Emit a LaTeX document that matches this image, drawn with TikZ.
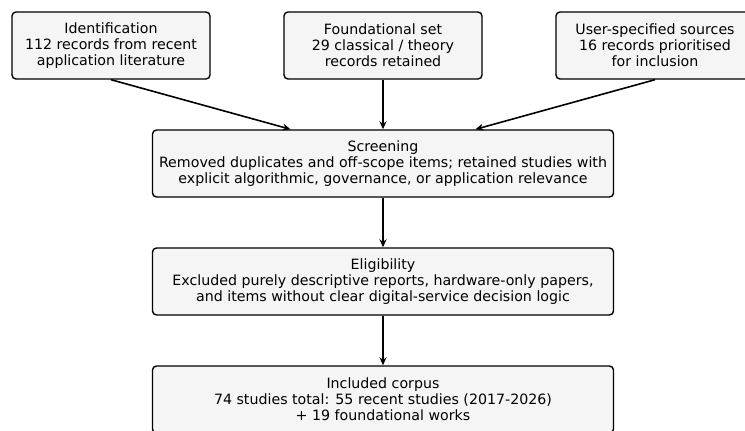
\documentclass[tikz,border=0pt]{standalone}
\usepackage{fontspec}
\setmainfont{DejaVu Sans}
\usetikzlibrary{calc,arrows.meta}

\begin{document}
\begin{tikzpicture}[x=1pt, y=-1pt,
    stagebox/.style={draw=black, line width=1.4pt, fill=black!4, rounded corners=4pt,
        align=center, inner sep=0pt, minimum height=67pt,
        font=\fontsize{14.2}{16}\selectfont},
    smallbox/.style={stagebox, minimum width=198pt},
    widebox/.style={stagebox, minimum width=461pt},
    flow/.style={-{Stealth[length=8pt, width=7pt]}, line width=1.6pt}]

% Fix the frame
\path[use as bounding box, clip] (0,0) rectangle (745,431);

% Draw the source boxes
\node[smallbox] (ident) at (111,45.5) {Identification\\112 records from recent\\application literature};
\node[smallbox] (found) at (383,45.5) {Foundational set\\29 classical / theory\\records retained};
\node[smallbox] (user) at (655,45.5) {User-specified sources\\16 records prioritised\\for inclusion};

% Draw the stage boxes
\node[widebox] (screen) at (383,163.5) {Screening\\Removed duplicates and off-scope items; retained studies with\\explicit algorithmic, governance, or application relevance};
\node[widebox] (elig) at (383,281.5) {Eligibility\\Excluded purely descriptive reports, hardware-only papers,\\and items without clear digital-service decision logic};
\node[widebox] (incl) at (383,399.5) {Included corpus\\74 studies total: 55 recent studies (2017-2026)\\+ 19 foundational works};

% Entry points on the screening box
\coordinate (screenL) at ($(screen.north)!0.4!(screen.north west)$);
\coordinate (screenR) at ($(screen.north)!0.4!(screen.north east)$);

% Draw the arrows
\draw[flow] (ident.south) -- (screenL);
\draw[flow] (found.south) -- (screen.north);
\draw[flow] (user.south) -- (screenR);
\draw[flow] (screen.south) -- (elig.north);
\draw[flow] (elig.south) -- (incl.north);

\end{tikzpicture}
\end{document}
